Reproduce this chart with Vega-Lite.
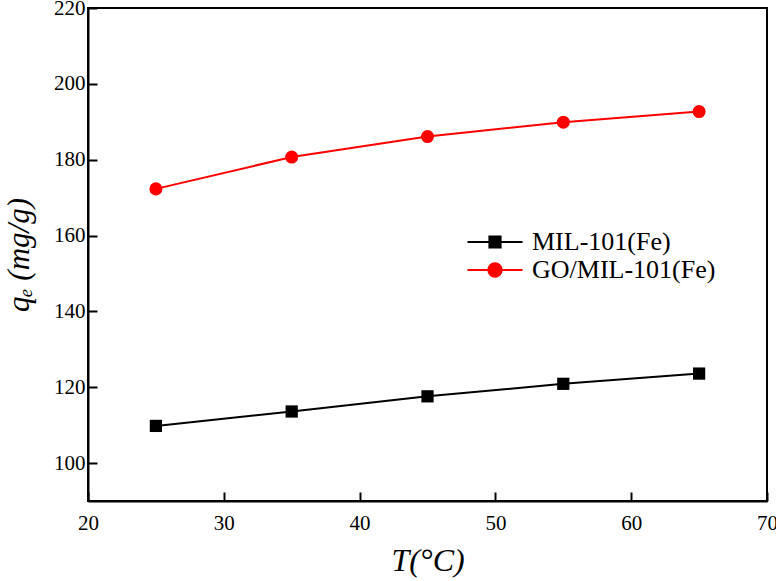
{
  "$schema": "https://vega.github.io/schema/vega-lite/v6.json",
  "width": 679,
  "height": 493,
  "autosize": {"type": "none"},
  "padding": {"left": 88, "top": 8, "right": 9, "bottom": 80},
  "background": "white",
  "config": {
    "view": {"stroke": "black", "strokeWidth": 2},
    "font": "Liberation Serif",
    "axis": {
      "grid": false,
      "domainColor": "black",
      "domainWidth": 2,
      "tickColor": "black",
      "tickWidth": 2,
      "tickSize": -9,
      "labelFont": "Liberation Serif",
      "labelFontSize": 21,
      "labelColor": "black",
      "titleFont": "Liberation Serif",
      "titleFontStyle": "italic",
      "titleFontWeight": "normal",
      "titleColor": "black"
    }
  },
  "data": {
    "values": [
      {"T": 25, "qe": 109.8, "series": "MIL-101(Fe)"},
      {"T": 35, "qe": 113.6, "series": "MIL-101(Fe)"},
      {"T": 45, "qe": 117.6, "series": "MIL-101(Fe)"},
      {"T": 55, "qe": 120.9, "series": "MIL-101(Fe)"},
      {"T": 65, "qe": 123.6, "series": "MIL-101(Fe)"},
      {"T": 25, "qe": 172.3, "series": "GO/MIL-101(Fe)"},
      {"T": 35, "qe": 180.7, "series": "GO/MIL-101(Fe)"},
      {"T": 45, "qe": 186.1, "series": "GO/MIL-101(Fe)"},
      {"T": 55, "qe": 189.9, "series": "GO/MIL-101(Fe)"},
      {"T": 65, "qe": 192.7, "series": "GO/MIL-101(Fe)"}
    ]
  },
  "encoding": {
    "x": {
      "field": "T",
      "type": "quantitative",
      "scale": {"domain": [20, 70], "nice": false, "zero": false},
      "axis": {"values": [20, 30, 40, 50, 60, 70], "title": "T(°C)", "titleFontSize": 32, "titlePadding": 12, "labelPadding": 20, "labelFlush": false, "labelFont": "Liberation Serif", "labelFontSize": 21}
    },
    "y": {
      "field": "qe",
      "type": "quantitative",
      "scale": {"domain": [90, 220], "nice": false, "zero": false},
      "axis": {"values": [100, 120, 140, 160, 180, 200, 220], "title": "qₑ (mg/g)", "titleFontSize": 31, "titlePadding": 18, "labelPadding": 12, "labelFlush": false, "labelFont": "Liberation Serif", "labelFontSize": 21}
    }
  },
  "layer": [
    {
      "mark": {"type": "line", "strokeWidth": 2},
      "encoding": {
        "color": {
          "field": "series",
          "type": "nominal",
          "scale": {"domain": ["MIL-101(Fe)", "GO/MIL-101(Fe)"], "range": ["#000000", "#ff0000"]},
          "legend": {
            "title": null,
            "orient": "none",
            "legendX": 394,
            "legendY": 221,
            "padding": 0,
            "labelFont": "Liberation Serif",
            "labelFontSize": 26,
            "labelColor": "black",
            "labelLimit": 400,
            "symbolSize": 196,
            "symbolStrokeWidth": 2,
            "rowPadding": 2,
            "labelOffset": 24,
            "encode": {
              "symbols": {
                "update": {
                  "shape": {"signal": "datum.value === 'MIL-101(Fe)' ? 'M-3.93,0H3.93M-0.8,-0.8H0.8V0.8H-0.8Z' : 'M-3.93,0H3.93M0.95,0A0.95,0.95,0,1,1,-0.95,0A0.95,0.95,0,1,1,0.95,0Z'"},
                  "fill": {"signal": "datum.value === 'MIL-101(Fe)' ? '#000000' : '#ff0000'"},
                  "stroke": {"signal": "datum.value === 'MIL-101(Fe)' ? '#000000' : '#ff0000'"},
                  "fillOpacity": {"value": 1},
                  "opacity": {"value": 1}
                }
              }
            }
          }
        }
      }
    },
    {
      "transform": [{"filter": "datum.series === 'MIL-101(Fe)'"}],
      "mark": {"type": "square", "filled": true, "opacity": 1, "size": 150, "color": "#000000"}
    },
    {
      "transform": [{"filter": "datum.series === 'GO/MIL-101(Fe)'"}],
      "mark": {"type": "circle", "filled": true, "opacity": 1, "size": 170, "color": "#ff0000"}
    }
  ]
}
